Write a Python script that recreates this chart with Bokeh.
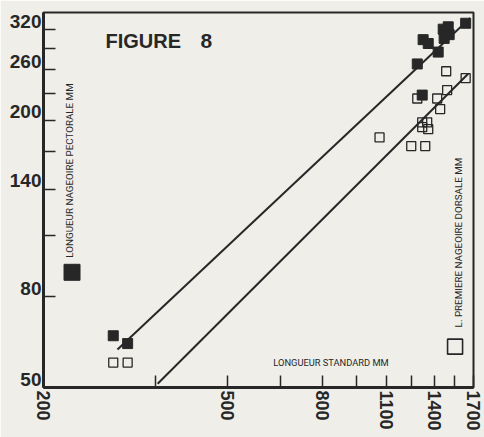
import math
from bokeh.plotting import figure
from bokeh.models import FixedTicker, Label, CustomJSTickFormatter, Range1d, LogAxis
from bokeh.embed import file_html
from bokeh.resources import INLINE

# ---------------- data ----------------
pect_x = [283, 304, 1323, 1357, 1426, 1285, 1317, 1462, 1499, 1469, 1506, 1635]
pect_y = [65.4, 62.8, 304, 298, 285, 268, 228, 321, 325, 306, 312, 331]

dors_x = [283, 304, 1484, 1635, 1491, 1285, 1419, 1440, 1317, 1350, 1317, 1357, 1065, 1247, 1337]
dors_y = [56.9, 56.9, 258, 249, 234, 224, 224, 212, 198, 198, 193, 191, 183, 175, 175]

line_pect_x = [289, 1672]
line_pect_y = [60.9, 340]
line_dors_x = [353, 1656]
line_dors_y = [51.0, 254.6]

x_ticks = [200, 350, 500, 650, 800, 950, 1100, 1250, 1400, 1550, 1700]
x_labels = [200, 500, 800, 1100, 1400, 1700]
y_ticks = [50, 80, 110, 140, 170, 200, 230, 260, 290, 320]
y_labels = [50, 80, 140, 200, 260, 320]

# legend swatch anchors (data coords)
leg_fill_x, leg_fill_y = [230.5], [90.9]
leg_open_x, leg_open_y = [1551], [61.8]

INK = "#272727"
BG = "#efeee9"
THIN = "Roboto"
BOLD = "Liberation Sans"

X0, X1 = 200, 1700
Y0, Y1 = 50, 350
FX0, FX1, FY0, FY1 = 43, 473, 12, 387  # frame in screen px


def dx(px):
    return 10 ** (math.log10(X0) + (px - FX0) / (FX1 - FX0) * math.log10(X1 / X0))


def dy(py):
    return 10 ** (math.log10(Y0) + (FY1 - py) / (FY1 - FY0) * math.log10(Y1 / Y0))


p = figure(width=484, height=437, x_axis_type="log", y_axis_type="log",
           x_range=Range1d(X0, X1), y_range=Range1d(Y0, Y1),
           output_backend="svg", toolbar_location=None,
           min_border_left=43, min_border_right=11, min_border_top=12, min_border_bottom=50)
p.background_fill_color = BG
p.border_fill_color = BG
p.outline_line_color = INK
p.outline_line_width = 2
p.grid.visible = False

for ax, ticks in ((p.xaxis[0], x_ticks), (p.yaxis[0], y_ticks)):
    ax.ticker = FixedTicker(ticks=ticks, minor_ticks=[])
    ax.major_tick_in = 12
    ax.major_tick_out = 0
    ax.minor_tick_in = 0
    ax.minor_tick_out = 0
    ax.axis_line_width = 3
    ax.axis_line_color = INK
    ax.major_tick_line_color = INK
    ax.major_tick_line_width = 1.5

# x axis: rotated labels reading downwards
xa = p.xaxis[0]
xa.formatter = CustomJSTickFormatter(
    args=dict(labels=x_labels),
    code="return labels.includes(tick) ? String(tick) : '';")
xa.major_label_orientation = -math.pi / 2
xa.major_label_standoff = 3
xa.major_label_text_font = BOLD
xa.major_label_text_font_style = "bold"
xa.major_label_text_font_size = "18px"
xa.major_label_text_color = INK

# y axis: ticks only; labels on a second axis, sitting just above each tick
ya = p.yaxis[0]
ya.formatter = CustomJSTickFormatter(code="return '';")
ya.major_label_standoff = 0

shift = 10 ** (8.5 / (FY1 - FY0) * math.log10(Y1 / Y0))
ylab_pos = [v * shift for v in y_labels]
yb = LogAxis(ticker=FixedTicker(ticks=ylab_pos, minor_ticks=[]),
             formatter=CustomJSTickFormatter(
                 args=dict(pos=ylab_pos, labels=[str(v) for v in y_labels]),
                 code="for (let i = 0; i < pos.length; i++) { if (Math.abs(pos[i] - tick) < 1e-6 * pos[i]) return labels[i]; } return '';"),
             axis_line_color=None, major_tick_line_color=None, minor_tick_line_color=None,
             major_tick_in=0, major_tick_out=0, minor_tick_in=0, minor_tick_out=0,
             major_label_standoff=2, major_label_text_font=BOLD, major_label_text_font_style="bold",
             major_label_text_font_size="19px", major_label_text_color=INK)
p.add_layout(yb, "left")

# regression lines
p.line(line_pect_x, line_pect_y, line_color=INK, line_width=2)
p.line(line_dors_x, line_dors_y, line_color=INK, line_width=2)

# points
p.scatter(pect_x, pect_y, marker="square", size=10, fill_color=INK, line_color=INK)
p.scatter(dors_x, dors_y, marker="square", size=9, fill_color=None, line_color=INK, line_width=1.3)

# legend swatches
p.scatter(leg_fill_x, leg_fill_y, marker="square", size=16, fill_color=INK, line_color=INK)
p.scatter(leg_open_x, leg_open_y, marker="square", size=15, fill_color=None, line_color=INK, line_width=1.6)

# titles
p.add_layout(Label(x=dx(105), y=dy(40), text="FIGURE", text_align="left", text_baseline="alphabetic",
                   text_font=BOLD, text_font_style="bold", text_font_size="20px", text_color=INK))
p.add_layout(Label(x=dx(200), y=dy(40), text="8", text_align="left", text_baseline="alphabetic",
                   text_font=BOLD, text_font_style="bold", text_font_size="21px", text_color=INK))
p.add_layout(Label(x=dx(68.5), y=dy(170), text="LONGUEUR NAGEOIRE PECTORALE MM", angle=math.pi / 2,
                   text_align="center", text_baseline="middle", text_font=THIN,
                   text_font_size="9.8px", text_color=INK))
p.add_layout(Label(x=dx(457.5), y=dy(242), text="L. PREMIERE NAGEOIRE DORSALE MM", angle=math.pi / 2,
                   text_align="center", text_baseline="middle", text_font=THIN,
                   text_font_size="9.8px", text_color=INK))
p.add_layout(Label(x=dx(330.5), y=dy(362), text="LONGUEUR STANDARD MM",
                   text_align="center", text_baseline="middle", text_font=THIN,
                   text_font_size="9.3px", text_color=INK))

open("out.html", "w").write(file_html(p, INLINE))
